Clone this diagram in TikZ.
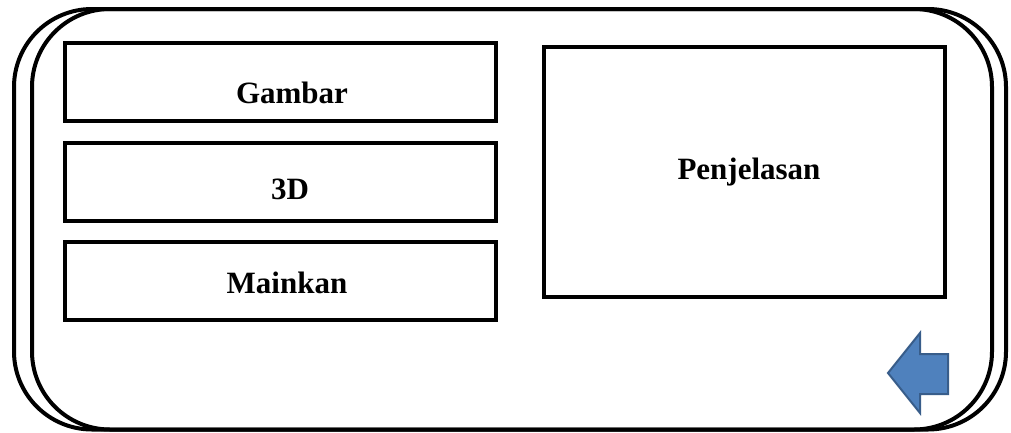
\documentclass[tikz,border=0pt]{standalone}
\usepackage{fontspec}
\setmainfont{Liberation Serif}
\definecolor{arrowfill}{HTML}{4F81BD}
\definecolor{arrowdraw}{HTML}{385D8A}
\begin{document}
\begin{tikzpicture}[x=1pt,y=-1pt,
  frame/.style={draw=black,line width=4pt,rounded corners=78pt},
  box/.style={draw=black,line width=4.5pt,rectangle,inner sep=0pt,outer sep=0pt},
  lbl/.style={anchor=base,inner sep=0pt,font=\fontsize{31}{36}\selectfont\bfseries}]
\useasboundingbox (0,0) rectangle (1011,432);
\draw[frame] (14,9) rectangle (992,429.5);
\draw[frame] (32,9) rectangle (1006,429.5);
\node[box,minimum width=431pt,minimum height=78pt] (gambar) at (280.5,82) {};
\node[box,minimum width=431pt,minimum height=78pt] (tiga) at (280.5,182) {};
\node[box,minimum width=431pt,minimum height=78pt] (mainkan) at (280.5,281) {};
\node[box,minimum width=401pt,minimum height=250pt] (penjelasan) at (744.5,172) {};
\node[lbl] (tgambar) at (292,103) {Gambar};
\node[lbl] (ttiga) at (290,199) {3D};
\node[lbl] (tmainkan) at (287,293) {Mainkan};
\node[lbl] (tpenjelasan) at (749,179) {Penjelasan};
\draw[fill=arrowfill,draw=arrowdraw,line width=2pt,line join=miter]
  (888,373) -- (920,333) -- (920,354) -- (948,354) -- (948,394) -- (920,394) -- (920,413) -- cycle;
\end{tikzpicture}
\end{document}
